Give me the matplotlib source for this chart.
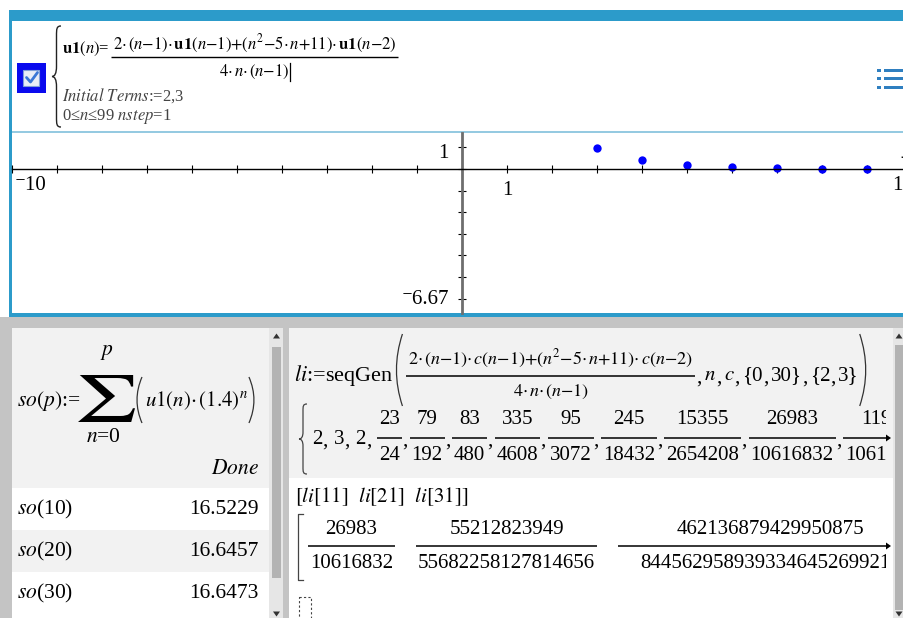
import matplotlib
matplotlib.use('Agg')
import matplotlib.pyplot as plt
from matplotlib.patches import Rectangle, Polygon, PathPatch
from matplotlib.path import Path
from matplotlib.textpath import TextPath
from matplotlib.transforms import Affine2D

plt.rcParams['font.family'] = ['Liberation Serif', 'DejaVu Serif']
plt.rcParams['mathtext.fontset'] = 'stix'

W, H = 904, 618

# u1(n) for n = 0..11 as listed by seqGen (numerator / denominator)
seq_n = list(range(12))
seq_num = [2, 3, 2, 23, 79, 83, 335, 95, 245, 15355, 26983, 11975]
seq_den = [1, 1, 1, 24, 192, 480, 4608, 3072, 18432, 2654208, 10616832, 10616832]

# graph window
x_min, x_max = -10, 10
y_min, y_max = -6.67, 1.67
x_ticks = list(range(-10, 10))
y_ticks = list(range(-6, 2))

# so(p) results
so_p = [10, 20, 30]
so_val = ['16.5229', '16.6457', '16.6473']

# li[11], li[21], li[31]
li_idx = [11, 21, 31]
li_num = ['26983', '55212823949', '462136879429950875']
li_den = ['10616832', '55682258127814656', '8445629589393346452699217']

fig = plt.figure(figsize=(W / 100, H / 100), dpi=100)
R = fig.canvas.get_renderer()


def pane(x0, y0, x1, y1, z):
    # axes whose data units are screen pixels (y going down)
    ax = fig.add_axes([x0 / W, 1 - y1 / H, (x1 - x0) / W, (y1 - y0) / H], zorder=z)
    ax.set_xlim(x0, x1)
    ax.set_ylim(y1, y0)
    ax.axis('off')
    return ax


def box(ax, x0, y0, x1, y1, color, **kw):
    ax.add_patch(Rectangle((x0, y0), x1 - x0, y1 - y0, facecolor=color,
                           edgecolor='none', **kw))


def width(ax, s, fs):
    t = ax.text(0, 0, s, fontsize=fs)
    w = t.get_window_extent(R).width
    t.remove()
    return w


def put(ax, x, y, s, fs, ha='left', **kw):
    ax.text(x, y, s, fontsize=fs, ha=ha, va='center', clip_on=True, **kw)
    return x + width(ax, s, fs)


def spaced(ax, x, y, s, fs, gap):
    # TI leaves some room after each comma
    parts = s.split(',')
    for k, p in enumerate(parts):
        if p:
            x = put(ax, x, y, p, fs)
        if k < len(parts) - 1:
            x = put(ax, x, y + 2, ',', fs) + gap
    return x


def frac(ax, x, y, num, den, fs, up, dn, pad=3, minw=0, lw=1.1):
    w = max(width(ax, num, fs), width(ax, den, fs), minw) + 2 * pad
    ax.plot([x, x + w], [y, y], color='black', lw=lw, solid_capstyle='butt')
    ax.text(x + w / 2, y - up, num, fontsize=fs, ha='center', va='center', clip_on=True)
    ax.text(x + w / 2, y + dn, den, fontsize=fs, ha='center', va='center', clip_on=True)
    return x + w


def paren(ax, x, y0, y1, side, w=6, lw=0.9, color='#333333'):
    ym = (y0 + y1) / 2
    if side == 'l':
        pts = [(x + w, y0), (x - w, ym), (x + w, y1)]
    else:
        pts = [(x, y0), (x + 2 * w, ym), (x, y1)]
    ax.add_patch(PathPatch(Path(pts, [Path.MOVETO, Path.CURVE3, Path.CURVE3]),
                           fill=False, lw=lw, edgecolor=color))


def brace(ax, x, y0, y1, w=8, lw=1.0, color='#222222'):
    h = y1 - y0
    ym = (y0 + y1) / 2
    xm = x + w * 0.5
    pts = [(x + w, y0),
           (xm, y0), (xm, y0 + 0.03 * h), (xm, y0 + 0.1 * h),
           (xm, ym - 0.1 * h),
           (xm, ym - 0.03 * h), (x + w * 0.3, ym), (x, ym),
           (x + w * 0.3, ym), (xm, ym + 0.03 * h), (xm, ym + 0.1 * h),
           (xm, y1 - 0.1 * h),
           (xm, y1 - 0.03 * h), (xm, y1), (x + w, y1)]
    codes = [Path.MOVETO] + [Path.CURVE4] * 3 + [Path.LINETO] + [Path.CURVE4] * 6 + \
            [Path.LINETO] + [Path.CURVE4] * 3
    ax.add_patch(PathPatch(Path(pts, codes), fill=False, lw=lw, edgecolor=color))


def tri(ax, x, y, up, color='#333333'):
    if up:
        pts = [(x - 3.5, y + 2.5), (x + 3.5, y + 2.5), (x, y - 2.5)]
    else:
        pts = [(x - 3.5, y - 2.5), (x + 3.5, y - 2.5), (x, y + 2.5)]
    ax.add_patch(Polygon(pts, closed=True, facecolor=color, edgecolor='none'))


def arrow_head(ax, x, y):
    ax.add_patch(Polygon([(x, y - 3.5), (x, y + 3.5), (x + 5, y)], facecolor='black',
                         edgecolor='none', zorder=3))


# ---------------- frame / backgrounds ----------------
bg = pane(0, 0, W, H, 0)
box(bg, 0, 317, W, H, '#c4c4c4')
box(bg, 9, 10, W, 21, '#2c9bca')
box(bg, 9, 10, 12.5, 317, '#2c9bca')
box(bg, 9, 313, W, 317, '#2c9bca')
box(bg, 12.5, 131, W, 133, '#95cae1')

# left history panel rows
box(bg, 12, 328, 269, 488, '#f2f2f2')
box(bg, 12, 488, 269, 530, 'white')
box(bg, 12, 530, 269, 572, '#f2f2f2')
box(bg, 12, 572, 269, H, 'white')
box(bg, 269, 328, 283, H, '#e6e6e6')
box(bg, 272, 347, 281, 578, '#b3b3b3')
tri(bg, 276.5, 336, True)
tri(bg, 276.5, 614, False)

# right history panel rows
box(bg, 289, 328, 893, 478, '#f2f2f2')
box(bg, 289, 478, 893, H, 'white')
box(bg, 893, 328, W, H, '#e6e6e6')
box(bg, 895, 345, 903, 610, '#b3b3b3')
tri(bg, 899, 336, True)
tri(bg, 899, 614, False)

# ---------------- sequence entry line ----------------
box(bg, 17, 63, 46, 93, '#0a0aee')
bg.add_patch(Rectangle((23.5, 69.5), 16, 16, facecolor='#e9eef7', edgecolor='#7f9fd8', lw=0.8))
bg.plot([26.5, 30.5, 37.5], [77.5, 82, 72.5], color='#3a78d6', lw=2, solid_capstyle='round')
brace(bg, 52, 26, 127, w=9)

fs_top = 12
x = put(bg, 62, 49, r'$\mathbf{u1}(n)$=', fs_top)
top_num = (r'$2{\cdot}\,(n{-}1){\cdot}\,\mathbf{u1}(n{-}1){+}'
           r'(n^{2}{-}5{\cdot}\,n{+}11){\cdot}\,\mathbf{u1}(n{-}2)$')
top_den = r'$4{\cdot}\,n{\cdot}\,(n{-}1)$'
x_end = frac(bg, x + 1, 57, top_num, top_den, fs_top, 13, 15, pad=2, lw=1.0)
cx = (x + 1 + x_end) / 2 + width(bg, top_den, fs_top) / 2 + 1
bg.plot([cx, cx], [63, 81], color='black', lw=0.9)
put(bg, 62, 96, r'$\mathit{Initial\ Terms}$:=2,3', fs_top, color='#444444')
put(bg, 62, 117, r'0≤$n$≤99 $nstep$=1', fs_top, color='#444444')

# list icon
for yy in (70, 78.5, 87):
    box(bg, 877, yy - 1.5, 881, yy + 1.5, '#2f7fc0')
    box(bg, 884, yy - 1.5, W, yy + 1.5, '#2f7fc0')

# ---------------- graph ----------------
g = fig.add_axes([12.5 / W, 1 - 313 / H, 900 / W, 180 / H], zorder=1)
g.set_xlim(x_min, x_max)
g.set_ylim(y_min, y_max)
for s in ('top', 'right'):
    g.spines[s].set_visible(False)
g.spines['bottom'].set_position(('data', 0))
g.spines['left'].set_position(('data', 0))
g.spines['bottom'].set_linewidth(1.0)
g.spines['left'].set_linewidth(2.0)
g.spines['left'].set_color('#6e6e6e')
g.set_xticks(x_ticks)
g.set_yticks(y_ticks)
g.tick_params(direction='inout', length=6, width=0.8, labelbottom=False, labelleft=False)
g.plot(seq_n, [a / b for a, b in zip(seq_num, seq_den)], 'o', color='#0000ff', ms=6, mec='none')

lab = dict(fontsize=15, va='center')
g.text(-0.3, 0.74, '1', ha='right', **lab)
g.text(-9.96, -0.78, '⁻10', ha='left', **lab)
g.text(1, -1.0, '1', ha='center', **lab)
g.text(-0.3, -6.05, '⁻6.67', ha='right', **lab)
g.text(9.55, -0.78, '10', ha='left', **lab)
g.text(9.75, 0.74, '$x$', ha='left', **lab)

# ---------------- left history: so(p) ----------------
lp = pane(12, 328, 269, H, 2)
fs_l = 15.5
put(lp, 17, 401, r'$so(p)$:=', fs_l)
sig = TextPath((0, 0), r'$\sum$', size=40)
sb = sig.get_extents()
sig_tr = Affine2D().translate(-sb.x0, -sb.y1).scale(57 / sb.width, -47 / sb.height).translate(78, 375)
lp.add_patch(PathPatch(sig_tr.transform_path(sig), facecolor='black', edgecolor='none', lw=0))
lp.text(107, 352, r'$p$', fontsize=fs_l, ha='center', va='center')
lp.text(103, 438, r'$n$=0', fontsize=fs_l, ha='center', va='center')
paren(lp, 137, 377, 423, 'l', w=5)
x = put(lp, 145, 401, r'$\mathit{u1}(n){\cdot}\,(1.4)^{n}$', 15)
paren(lp, x + 1, 377, 423, 'r', w=5)
lp.text(259, 469, r'$\mathit{Done}$', fontsize=fs_l, ha='right', va='center')
for p, v, yy in zip(so_p, so_val, (509, 551, 593)):
    put(lp, 17, yy, r'$so$' + f'({p})', fs_l)
    lp.text(259, yy, v, fontsize=fs_l, ha='right', va='center')

# ---------------- right history: seqGen ----------------
rp = pane(289, 328, 886, H, 2)
fs_r = 15
x = put(rp, 294, 376, r'$li$:=seqGen', 16)
paren(rp, x + 3, 334, 406, 'l', w=6)
x = frac(rp, x + 13, 376,
         r'$2{\cdot}\,(n{-}1){\cdot}\,c(n{-}1){+}(n^{2}{-}5{\cdot}\,n{+}11){\cdot}\,c(n{-}2)$',
         r'$4{\cdot}\,n{\cdot}\,(n{-}1)$', 13, 17, 16, pad=2)
x = spaced(rp, x + 1, 376, r',$n$,$c$,{0,30},{2,3}', fs_r, 2.5)
paren(rp, x + 1, 334, 406, 'r', w=6)

brace(rp, 299, 404, 474, w=8, lw=0.9, color='#444444')
x = spaced(rp, 312, 439, '2,3,2,', fs_r, 6)
for i in range(3, len(seq_num)):
    x = frac(rp, x, 438, str(seq_num[i]), str(seq_den[i]), fs_r, 18, 18, pad=2)
    if i < len(seq_num) - 1:
        x = put(rp, x, 441, ',', fs_r) + 2
arrow_head(bg, 886, 438)

put(rp, 295, 497, r'$[' + r'\ \ '.join(f'li[{i}]' for i in li_idx) + r']$', fs_r)
rp.plot([303, 298, 298, 303], [514, 514, 580, 580], color='#444444', lw=0.9)
x = 308
for k, (a, b) in enumerate(zip(li_num, li_den)):
    x = frac(rp, x, 546, a, b, fs_r, 17, 17, pad=2, minw=300 if k == 2 else 0)
    x += 21
arrow_head(bg, 886, 546)
rp.add_patch(Rectangle((298.5, 597), 12, 22, facecolor='none', edgecolor='#444444', lw=0.8,
                       linestyle=(0, (2, 2))))

fig.savefig('out.png', dpi=100)
